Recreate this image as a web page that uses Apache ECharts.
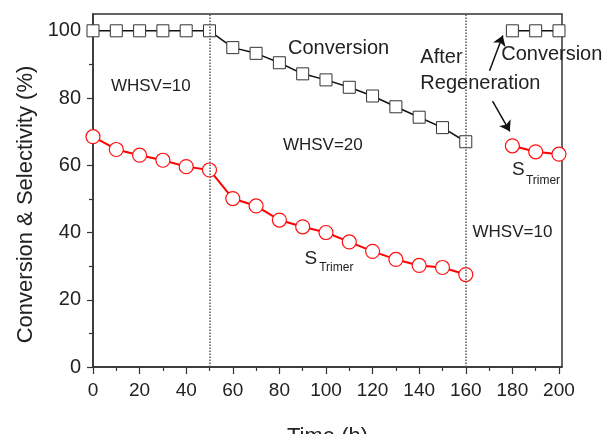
<!DOCTYPE html>
<html>
<head>
<meta charset="utf-8">
<script src="https://cdn.jsdelivr.net/npm/echarts@6/dist/echarts.min.js"></script>
<style>
html,body{margin:0;padding:0;background:#fff;}
#chart{width:603px;height:434px;}
</style>
</head>
<body>
<div id="chart"></div>
<script>
// ---- data ----
const time1 = [0, 10, 20, 30, 40, 50, 60, 70, 80, 90, 100, 110, 120, 130, 140, 150, 160];
const conversion1 = [100, 100, 100, 100, 100, 100, 95.0, 93.3, 90.5, 87.2, 85.4, 83.2, 80.6, 77.4, 74.3, 71.2, 67.0];
const selectivity1 = [68.5, 64.7, 63.0, 61.5, 59.6, 58.6, 50.1, 47.9, 43.7, 41.7, 40.0, 37.2, 34.4, 32.0, 30.2, 29.6, 27.5];
const time2 = [180, 190, 200];
const conversion2 = [100, 100, 100];
const selectivity2 = [65.8, 64.0, 63.3];
const xTicks = [0, 20, 40, 60, 80, 100, 120, 140, 160, 180, 200];
const xMinorTicks = [10, 30, 50, 70, 90, 110, 130, 150, 170, 190];
const yTicks = [0, 20, 40, 60, 80, 100];
const yMinorTicks = [10, 30, 50, 70, 90];
const regimeLines = [50, 160];

const FONT = "'Liberation Sans', Arial, sans-serif";
const pairs = (xs, ys) => xs.map((x, i) => [x, ys[i]]);

const chart = echarts.init(document.getElementById('chart'), null, {renderer: 'canvas'});

const axisCommon = {
  type: 'value', min: 0,
  splitLine: {show: false}
};

const option = {
  animation: false,
  backgroundColor: '#fff',
  grid: {left: 93, right: 41, top: 14, bottom: 67, outerBoundsMode: 'none', containLabel: false,
         show: true, borderColor: '#333', borderWidth: 1.5, backgroundColor: 'transparent'},
  xAxis: [
    Object.assign({}, axisCommon, {
      max: 201.3, position: 'bottom',
      name: 'Time (h)', nameLocation: 'middle', nameGap: 59,
      nameTextStyle: {fontFamily: FONT, fontSize: 22, color: '#222'},
      axisLine: {show: true, onZero: false, lineStyle: {color: '#333', width: 1.5}},
      axisTick: {show: true, length: 7, customValues: xTicks, lineStyle: {color: '#333', width: 1.2}},
      axisLabel: {show: true, customValues: xTicks, margin: 14, fontFamily: FONT, fontSize: 19, color: '#222'}
    }),
    Object.assign({}, axisCommon, {
      max: 201.3, position: 'bottom',
      axisLine: {show: false},
      axisTick: {show: true, length: 4, customValues: xMinorTicks, lineStyle: {color: '#333', width: 1.2}},
      axisLabel: {show: false}
    })
  ],
  yAxis: [
    Object.assign({}, axisCommon, {
      max: 105, position: 'left',
      name: 'Conversion & Selectivity (%)', nameLocation: 'middle', nameGap: 55,
      nameTextStyle: {fontFamily: FONT, fontSize: 22, color: '#222', padding: [0, 28, 0, 0]},
      axisLine: {show: true, onZero: false, lineStyle: {color: '#333', width: 1.5}},
      axisTick: {show: true, length: 6, customValues: yTicks, lineStyle: {color: '#333', width: 1.2}},
      axisLabel: {show: true, customValues: yTicks, margin: 12, fontFamily: FONT, fontSize: 20, color: '#222'}
    }),
    Object.assign({}, axisCommon, {
      max: 105, position: 'left',
      axisLine: {show: false},
      axisTick: {show: true, length: 4, customValues: yMinorTicks, lineStyle: {color: '#333', width: 1.2}},
      axisLabel: {show: false}
    })
  ],
  series: [
    {
      type: 'line', name: 'Conversion', data: pairs(time1, conversion1),
      symbol: 'rect', symbolSize: 12, z: 4,
      lineStyle: {color: '#111', width: 1.5},
      itemStyle: {color: '#fff', borderColor: '#333', borderWidth: 1},
      markLine: {
        silent: true, symbol: 'none', label: {show: false},
        lineStyle: {color: '#555', type: 'dotted', width: 1.5},
        data: regimeLines.map(v => ({xAxis: v}))
      }
    },
    {
      type: 'line', name: 'Conversion2', data: pairs(time2, conversion2),
      symbol: 'rect', symbolSize: 12, z: 4,
      lineStyle: {color: '#111', width: 1.5},
      itemStyle: {color: '#fff', borderColor: '#333', borderWidth: 1},
      markLine: {
        silent: true, symbol: ['none', 'arrow'], symbolSize: 10, label: {show: false},
        lineStyle: {color: '#111', type: 'solid', width: 1.5},
        itemStyle: {color: '#111'},
        data: [
          [{coord: [170.2, 88.1]}, {coord: [175.9, 98.6]}],
          [{coord: [171.5, 79.1]}, {coord: [178.9, 70.1]}]
        ]
      }
    },
    {
      type: 'line', name: 'S', data: pairs(time1, selectivity1),
      symbol: 'circle', symbolSize: 14, z: 3,
      lineStyle: {color: '#ff0000', width: 2},
      itemStyle: {color: '#fff', borderColor: '#ff1010', borderWidth: 1.2}
    },
    {
      type: 'line', name: 'S2', data: pairs(time2, selectivity2),
      symbol: 'circle', symbolSize: 14, z: 3,
      lineStyle: {color: '#ff0000', width: 2},
      itemStyle: {color: '#fff', borderColor: '#ff1010', borderWidth: 1.2}
    }
  ]
};
chart.setOption(option);

// annotations placed in data coordinates
const annotations = [
  {text: 'WHSV=10', x: 7.7, y: 83.5, size: 17},
  {text: 'WHSV=20', x: 81.5, y: 65.8, size: 17},
  {text: 'WHSV=10', x: 162.9, y: 40.0, size: 17},
  {text: 'Conversion', x: 83.7, y: 94.8, size: 20},
  {text: 'After', x: 140.5, y: 92.0, size: 20},
  {text: 'Regeneration', x: 140.5, y: 84.2, size: 20},
  {text: 'Conversion', x: 175.2, y: 93.1, size: 20},
  {text: 'S', x: 90.8, y: 32.2, size: 19},
  {text: 'Trimer', x: 97.1, y: 29.4, size: 12},
  {text: 'S', x: 179.8, y: 58.6, size: 19},
  {text: 'Trimer', x: 185.8, y: 55.4, size: 12}
];
const graphics = annotations.map(a => {
  const p = chart.convertToPixel({xAxisIndex: 0, yAxisIndex: 0}, [a.x, a.y]);
  return {
    type: 'text', x: p[0], y: p[1], z: 10,
    style: {text: a.text, fill: '#222', font: a.size + 'px ' + FONT, align: 'left', verticalAlign: 'middle'}
  };
});
chart.setOption({graphic: graphics});
</script>
</body>
</html>
